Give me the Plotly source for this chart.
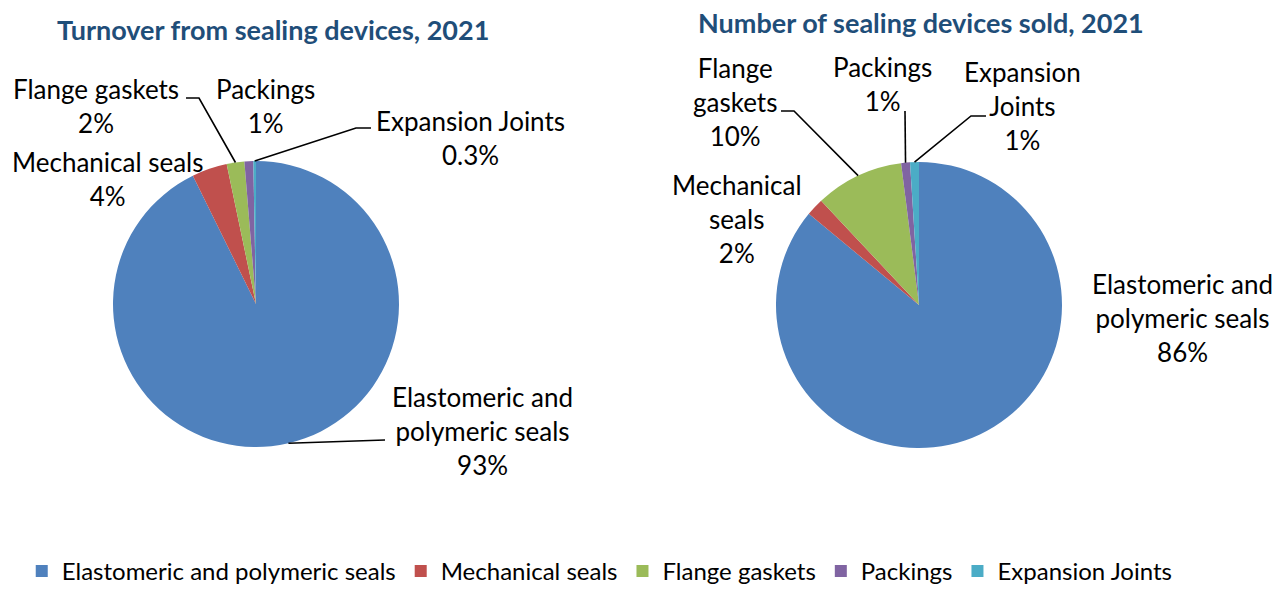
import math
import plotly.graph_objects as go

# ---- data -------------------------------------------------------------
categories = ["Elastomeric and polymeric seals", "Mechanical seals",
              "Flange gaskets", "Packings", "Expansion Joints"]
turnover_share = [93, 4, 2, 1, 0.3]      # % of turnover, 2021
units_share = [86, 2, 10, 1, 1]          # % of units sold, 2021
colors = ["#4F81BD", "#C0504D", "#9BBB59", "#8064A2", "#4BACC6"]

titles = ["Turnover from sealing devices, 2021",
          "Number of sealing devices sold, 2021"]

# ---- layout constants (pixels) ---------------------------------------
W, H = 1279, 594
FONT = "Lato"
TITLE_COLOR = "#1F4E79"

pies = [
    dict(values=turnover_share, cx=256, cy=304, r=143, title_xy=(273, 30),
         names=["Elastomeric and<br>polymeric seals", "Mechanical seals",
                "Flange gaskets", "Packings", "Expansion Joints"],
         label_xy={0: (482, 431), 1: (108, 179), 2: (96, 106),
                   3: (265, 106), 4: (470, 138)},
         leaders={0: [(385, 440)], 2: [(186, 98), (199, 98)],
                  4: [(371, 128), (356, 128)]}),
    dict(values=units_share, cx=919, cy=305, r=143, title_xy=(921, 23),
         names=["Elastomeric and<br>polymeric seals", "Mechanical<br>seals",
                "Flange<br>gaskets", "Packings", "Expansion<br>Joints"],
         label_xy={0: (1182, 318), 1: (737, 219), 2: (735, 102),
                   3: (883, 84), 4: (1022, 106)},
         leaders={2: [(781, 111), (794, 111)], 3: [(905, 111)],
                  4: [(986, 116), (971, 116)]}),
]


def px(x):
    return x / W


def py(y):
    return 1 - y / H


fig = go.Figure()
annotations = []
shapes = []

for i, p in enumerate(pies):
    cx, cy, r = p["cx"], p["cy"], p["r"]
    fig.add_trace(go.Pie(
        labels=categories, values=p["values"],
        marker=dict(colors=colors, line=dict(width=0)),
        sort=False, direction="clockwise", rotation=0,
        textinfo="none", hoverinfo="label+percent",
        showlegend=(i == 0),
        domain=dict(x=[px(cx - r), px(cx + r)], y=[py(cy + r), py(cy - r)]),
    ))

    # chart title
    tx, ty = p["title_xy"]
    annotations.append(dict(
        x=px(tx), y=py(ty), xref="paper", yref="paper", showarrow=False,
        text=f"<b>{titles[i]}</b>", xanchor="center", yanchor="middle",
        font=dict(family=FONT, size=27, color=TITLE_COLOR)))

    # data labels: name + value
    vals = p["values"]
    for k, (lx, ly) in p["label_xy"].items():
        annotations.append(dict(
            x=px(lx), y=py(ly), xref="paper", yref="paper", showarrow=False,
            text=f"{p['names'][k]}<br>{vals[k]:g}%", align="center",
            xanchor="center", yanchor="middle",
            font=dict(family=FONT, size=26, color="#000000")))

    # leader lines end on the slice edge at the slice's mid angle
    total = sum(vals)
    cum = 0
    mids = []
    for v in vals:
        mids.append(2 * math.pi * (cum + v / 2) / total)
        cum += v
    for k, pts in p["leaders"].items():
        a = mids[k]
        end = (cx + r * math.sin(a), cy - r * math.cos(a))
        all_pts = pts + [end]
        path = "M " + " L ".join(f"{px(x):.5f},{py(y):.5f}" for x, y in all_pts)
        shapes.append(dict(type="path", path=path, xref="paper", yref="paper",
                           line=dict(color="#000000", width=1.6)))

fig.update_layout(
    width=W, height=H,
    margin=dict(l=0, r=0, t=0, b=0),
    paper_bgcolor="white", plot_bgcolor="white",
    font=dict(family=FONT, color="#000000"),
    annotations=annotations, shapes=shapes,
    legend=dict(orientation="h", x=0.017, xanchor="left", y=0, yanchor="bottom",
                font=dict(family=FONT, size=24, color="#000000"),
                itemsizing="constant", traceorder="normal"),
)

fig.write_html("out.html")
